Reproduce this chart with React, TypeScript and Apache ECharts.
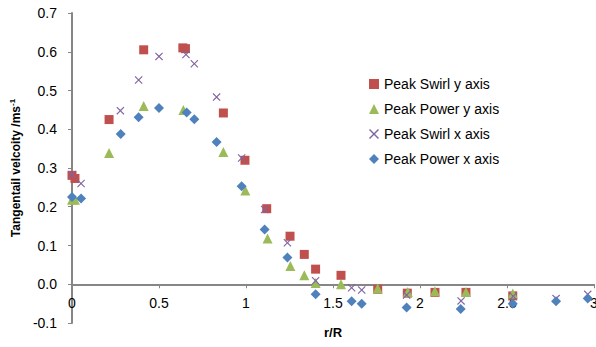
import React, { useEffect, useRef } from "react";
import * as echarts from "echarts";

const seriesNames = ["Peak Swirl y axis", "Peak Power y axis", "Peak Swirl x axis", "Peak Power x axis"];
const colors = ["#C0504D", "#9BBB59", "#8064A2", "#4F81BD"];

const swirlY: number[][] = [
  [0, 0.281], [0.017, 0.273], [0.213, 0.425], [0.412, 0.605], [0.637, 0.61], [0.652, 0.608],
  [0.87, 0.442], [0.994, 0.32], [1.119, 0.195], [1.253, 0.124], [1.335, 0.077], [1.4, 0.039],
  [1.546, 0.023], [1.757, -0.013], [1.927, -0.023], [2.086, -0.021], [2.264, -0.021], [2.533, -0.03],
];
const powerY: number[][] = [
  [0, 0.218], [0.017, 0.218], [0.213, 0.339], [0.412, 0.46], [0.64, 0.45], [0.87, 0.341],
  [0.996, 0.242], [1.124, 0.118], [1.255, 0.047], [1.335, 0.023], [1.4, 0.003], [1.546, 0.0],
  [1.757, -0.011], [1.93, -0.02], [2.086, -0.018], [2.264, -0.02], [2.533, -0.024],
];
const swirlX: number[][] = [
  [0, 0.283], [0.052, 0.26], [0.278, 0.448], [0.383, 0.527], [0.5, 0.588], [0.655, 0.593],
  [0.703, 0.569], [0.831, 0.483], [0.975, 0.326], [1.107, 0.193], [1.238, 0.107], [1.4, 0.009],
  [1.607, -0.009], [1.665, -0.015], [1.923, -0.028], [2.236, -0.043], [2.536, -0.031],
  [2.782, -0.037], [2.964, -0.026],
];
const powerX: number[][] = [
  [0, 0.225], [0.052, 0.221], [0.28, 0.388], [0.383, 0.431], [0.5, 0.455], [0.659, 0.443],
  [0.703, 0.426], [0.831, 0.367], [0.975, 0.253], [1.107, 0.141], [1.238, 0.069], [1.4, -0.026],
  [1.607, -0.044], [1.665, -0.05], [1.923, -0.06], [2.234, -0.064], [2.533, -0.05],
  [2.782, -0.044], [2.964, -0.037],
];

const X_SYMBOL = "path://M0,1L1,0L5,4L9,0L10,1L6,5L10,9L9,10L5,6L1,10L0,9L4,5Z";
const symbols = ["rect", "triangle", X_SYMBOL, "diamond"];
const sizes = [9, 10, 8, 10];
const dataSets = [swirlY, powerY, swirlX, powerX];

const FONT = "'Liberation Sans', Arial, sans-serif";

const GRID_TOP = 13;
const GRID_BOTTOM = 24;
const CHART_H = 347;
const Y_MIN = -0.1;
const Y_MAX = 0.7;

export default function App() {
  const ref = useRef<HTMLDivElement>(null);
  useEffect(() => {
    if (!ref.current) return;
    const chart = echarts.init(ref.current, null, { renderer: "svg" });
    const plotH = CHART_H - GRID_TOP - GRID_BOTTOM;
    const zeroOffset = -((0 - Y_MIN) / (Y_MAX - Y_MIN)) * plotH;
    chart.setOption({
      animation: false,
      backgroundColor: "#ffffff",
      textStyle: { fontFamily: FONT },
      grid: {
        left: 72,
        right: 2,
        top: GRID_TOP,
        bottom: GRID_BOTTOM,
        containLabel: false,
        outerBoundsMode: "none",
      },
      legend: {
        orient: "vertical",
        left: 364,
        top: 72,
        itemWidth: 10,
        itemHeight: 10,
        itemGap: 11,
        textStyle: { fontSize: 14, color: "#000", fontFamily: FONT },
        data: seriesNames.map((n, i) => ({ name: n, icon: symbols[i] })),
      },
      xAxis: {
        type: "value",
        position: "bottom",
        offset: zeroOffset,
        min: 0,
        max: 3,
        interval: 0.5,
        name: "r/R",
        nameLocation: "middle",
        nameGap: 42,
        nameTextStyle: { fontSize: 13, fontWeight: "bold", color: "#000", fontFamily: FONT },
        axisLine: { onZero: false, lineStyle: { color: "#868686", width: 2 } },
        axisTick: { show: true, length: 4, lineStyle: { color: "#868686", width: 1 } },
        axisLabel: { fontSize: 14, color: "#000", margin: 12, fontFamily: FONT },
        splitLine: { show: false },
      },
      yAxis: {
        type: "value",
        min: Y_MIN,
        max: Y_MAX,
        interval: 0.1,
        name: "{a|Tangentail velcoity /ms}{b|-1}",
        nameLocation: "middle",
        nameGap: 34,
        nameRotate: 90,
        nameTextStyle: {
          rich: {
            a: { fontSize: 12, fontWeight: "bold", color: "#000", fontFamily: FONT, lineHeight: 14 },
            b: { fontSize: 8, fontWeight: "bold", color: "#000", fontFamily: FONT, lineHeight: 8, verticalAlign: "top" },
          },
        },
        axisLine: { show: true, onZero: false, lineStyle: { color: "#868686", width: 2 } },
        axisTick: { show: true, length: 4, lineStyle: { color: "#868686", width: 1 } },
        axisLabel: {
          fontSize: 14,
          color: "#000",
          margin: 15,
          fontFamily: FONT,
          formatter: (v: number) => v.toFixed(1),
        },
        splitLine: { show: false },
      },
      series: dataSets.map((d, i) => ({
        name: seriesNames[i],
        type: "scatter",
        data: d,
        symbol: symbols[i],
        symbolSize: sizes[i],
        itemStyle: { color: colors[i], opacity: 1 },
      })),
    });
    return () => chart.dispose();
  }, []);
  return (
    <div
      ref={ref}
      style={{ position: "fixed", left: 0, top: 0, width: 596, height: 347, background: "#fff" }}
    />
  );
}
